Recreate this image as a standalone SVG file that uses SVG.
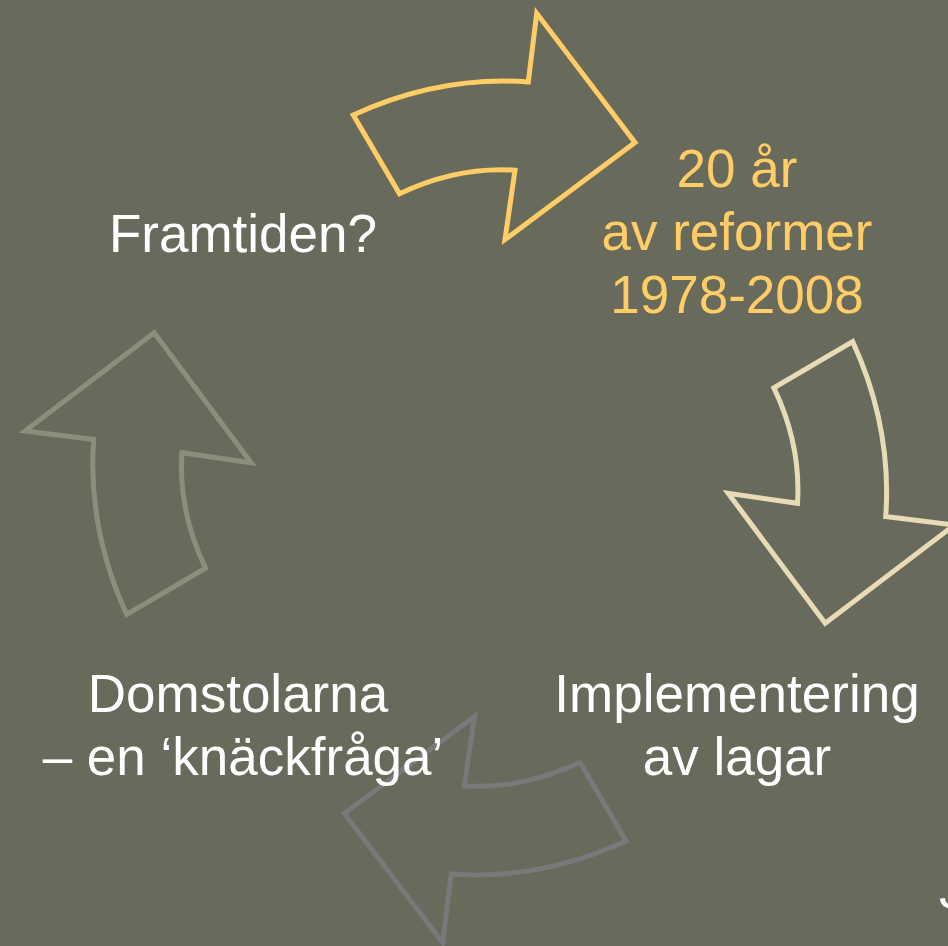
<svg xmlns="http://www.w3.org/2000/svg" width="948" height="946" viewBox="0 0 948 946">
<style>
.lbl{font-family:"Liberation Sans",Arial,sans-serif;font-size:53px;text-anchor:middle;fill:#FFFFFF}
.yel{fill:#FFCC66}
.arr{fill:none;stroke-width:5;stroke-linejoin:miter;stroke-miterlimit:10}
</style>
<defs>
<path id="arrow" d="M353.3,115 Q439.5,75.5 528.3,82 L536.7,13.3 L635,142.5 L505,239.5 L515,170.2 Q456.5,166.5 399.5,193.8 Z"/>
</defs>
<rect width="948" height="946" fill="#686A5C"/>
<g id="connectors">
<use href="#arrow" class="arr" stroke="#FFCC66"/>
<use href="#arrow" class="arr" stroke="#E8DCB6" transform="rotate(90 489.7 478)"/>
<use href="#arrow" class="arr" stroke="#78797A" transform="rotate(180 489.7 478)"/>
<use href="#arrow" class="arr" stroke="#8C8E7C" transform="rotate(270 489.7 478)"/>
</g>
<g id="node-framtiden">
<text class="lbl" x="243" y="252">Framtiden?</text>
</g>
<g id="node-reformer">
<text class="lbl yel" x="737" y="187">20 år</text>
<text class="lbl yel" x="737" y="250">av reformer</text>
<text class="lbl yel" x="737" y="313">1978-2008</text>
</g>
<g id="node-implementering">
<text class="lbl" x="737" y="712">Implementering</text>
<text class="lbl" x="737" y="775">av lagar</text>
</g>
<g id="node-domstolarna">
<text class="lbl" x="238" y="712">Domstolarna</text>
<text class="lbl" x="243" y="775">– en ‘knäckfråga’</text>
</g>
<g id="node-j">
<text class="lbl" x="939" y="908" style="text-anchor:start">J</text>
</g>
</svg>
